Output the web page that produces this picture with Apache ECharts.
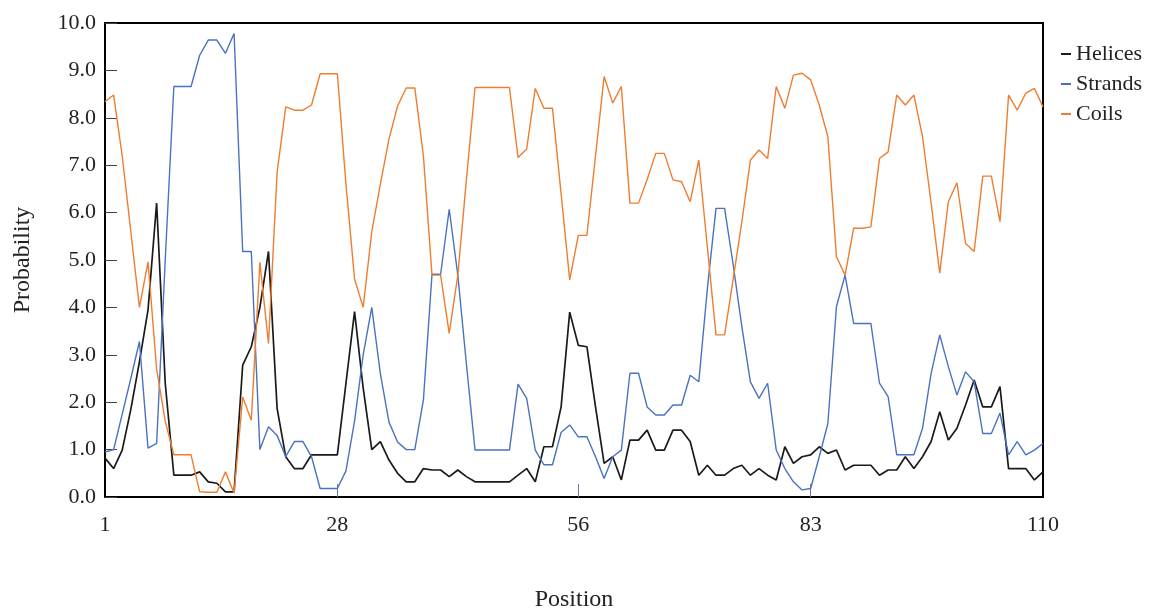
<!DOCTYPE html>
<html>
<head>
<meta charset="utf-8" />
<title>Probability by position</title>
<script type="text/javascript" src="https://cdn.jsdelivr.net/npm/echarts/dist/echarts.min.js"></script>
<style>
  html, body { margin: 0; padding: 0; background: #fff; }
  #main { width: 1151px; height: 610px; }
</style>
</head>
<body>
<div id="main"></div>
<script type="text/javascript">
// x positions 1..110, only some of them get a label
var positions = [];
for (var p = 1; p <= 110; p++) positions.push(String(p));
var xTickLabels = ['1', '28', '56', '83', '110'];

// values (probability x10)
var helices = [0.82,0.60,0.99,1.85,2.85,3.95,6.2,2.4,0.46,0.46,
  0.46,0.53,0.32,0.29,0.11,0.11,2.78,3.17,4.0,5.18,
  1.87,0.85,0.6,0.6,0.89,0.89,0.89,0.89,2.4,3.91,
  2.3,1.0,1.17,0.78,0.5,0.32,0.32,0.6,0.57,0.57,
  0.43,0.57,0.43,0.32,0.32,0.32,0.32,0.32,0.46,0.6,
  0.32,1.06,1.06,1.9,3.9,3.2,3.17,1.9,0.71,0.85,
  0.36,1.2,1.2,1.41,0.99,0.99,1.41,1.41,1.17,0.46,
  0.67,0.46,0.46,0.6,0.67,0.46,0.6,0.46,0.36,1.06,
  0.71,0.85,0.89,1.06,0.92,0.99,0.57,0.67,0.67,0.67,
  0.46,0.57,0.57,0.85,0.6,0.85,1.17,1.8,1.2,1.45,
  1.94,2.47,1.9,1.9,2.33,0.6,0.6,0.6,0.36,0.53];

var strands = [0.95,1.0,1.75,2.5,3.28,1.03,1.13,5.0,8.66,8.66,
  8.66,9.32,9.64,9.64,9.36,9.78,5.18,5.18,1.0,1.48,
  1.3,0.85,1.17,1.17,0.85,0.18,0.18,0.18,0.55,1.6,
  3.0,4.0,2.6,1.58,1.16,1.0,1.0,2.05,4.7,4.7,
  6.07,4.68,2.8,0.99,0.99,0.99,0.99,0.99,2.38,2.08,
  0.99,0.68,0.68,1.36,1.52,1.27,1.27,0.85,0.39,0.85,
  0.99,2.61,2.61,1.9,1.73,1.73,1.94,1.94,2.57,2.43,
  4.4,6.09,6.09,4.9,3.6,2.43,2.08,2.4,0.99,0.6,
  0.32,0.15,0.18,0.85,1.55,4.02,4.68,3.66,3.66,3.66,
  2.4,2.12,0.89,0.89,0.89,1.45,2.61,3.42,2.75,2.15,
  2.64,2.43,1.34,1.34,1.77,0.89,1.17,0.89,0.99,1.13];

var coils = [8.34,8.48,7.2,5.6,4.0,4.96,2.7,1.6,0.89,0.89,
  0.89,0.11,0.1,0.1,0.53,0.08,2.11,1.62,4.95,3.24,
  6.85,8.23,8.16,8.16,8.27,8.93,8.93,8.93,6.6,4.6,
  4.0,5.6,6.6,7.55,8.25,8.63,8.63,7.2,4.68,4.68,
  3.45,4.68,6.7,8.64,8.64,8.64,8.64,8.64,7.16,7.34,
  8.62,8.2,8.2,6.4,4.58,5.52,5.52,7.2,8.87,8.31,
  8.66,6.2,6.2,6.7,7.25,7.25,6.69,6.65,6.23,7.11,
  5.27,3.42,3.42,4.6,5.8,7.11,7.32,7.14,8.66,8.2,
  8.9,8.94,8.8,8.27,7.6,5.07,4.68,5.67,5.67,5.7,
  7.14,7.28,8.48,8.27,8.48,7.6,6.2,4.72,6.23,6.63,
  5.35,5.18,6.77,6.77,5.81,8.48,8.16,8.52,8.62,8.23];

var serif = '"Liberation Serif", "DejaVu Serif", serif';

function showLabel(index, value) {
  return xTickLabels.indexOf(value) >= 0;
}
function showTick(index, value) {
  // inner ticks only at the middle labels
  return value === '28' || value === '56' || value === '83';
}

var myChart = echarts.init(document.getElementById('main'));
myChart.setOption({
  animation: false,
  backgroundColor: '#fff',
  textStyle: { fontFamily: serif },
  grid: {
    left: 105, right: 108, top: 23, bottom: 113,
    outerBoundsMode: 'none',
    containLabel: false,
    show: true, borderColor: '#000', borderWidth: 2, backgroundColor: 'transparent'
  },
  legend: {
    orient: 'vertical',
    left: 1056,
    top: 38,
    itemWidth: 10,
    itemHeight: 2,
    itemGap: 8,
    icon: 'rect',
    textStyle: { fontFamily: serif, fontSize: 22, color: '#222', lineHeight: 22 },
    data: ['Helices', 'Strands', 'Coils']
  },
  xAxis: {
    type: 'category',
    boundaryGap: false,
    data: positions,
    name: 'Position',
    nameLocation: 'middle',
    nameGap: 91,
    nameTextStyle: { fontFamily: serif, fontSize: 24, color: '#222' },
    axisLine: { show: false },
    axisTick: { show: true, inside: true, length: 13, interval: showTick,
      lineStyle: { color: '#6a7a99', width: 1 } },
    axisLabel: { interval: showLabel, margin: 17, fontFamily: serif, fontSize: 22, color: '#222' },
    splitLine: { show: false }
  },
  yAxis: {
    type: 'value',
    min: 0, max: 10, interval: 1,
    name: 'Probability',
    nameLocation: 'middle',
    nameRotate: 90,
    nameGap: 70,
    nameTextStyle: { fontFamily: serif, fontSize: 24, color: '#222' },
    axisLine: { show: false },
    axisTick: { show: true, inside: true, length: 12, lineStyle: { color: '#444', width: 1 } },
    axisLabel: {
      margin: 9, fontFamily: serif, fontSize: 22, color: '#222',
      formatter: function (v) { return v.toFixed(1); }
    },
    splitLine: { show: false }
  },
  series: [
    { name: 'Helices', type: 'line', data: helices, showSymbol: false,
      itemStyle: { color: '#1a1a1a' }, lineStyle: { color: '#1a1a1a', width: 1.7 } },
    { name: 'Strands', type: 'line', data: strands, showSymbol: false,
      itemStyle: { color: '#4a72c0' }, lineStyle: { color: '#4a72c0', width: 1.4 } },
    { name: 'Coils', type: 'line', data: coils, showSymbol: false,
      itemStyle: { color: '#ee7d30' }, lineStyle: { color: '#ee7d30', width: 1.4 } }
  ]
});
</script>
</body>
</html>
